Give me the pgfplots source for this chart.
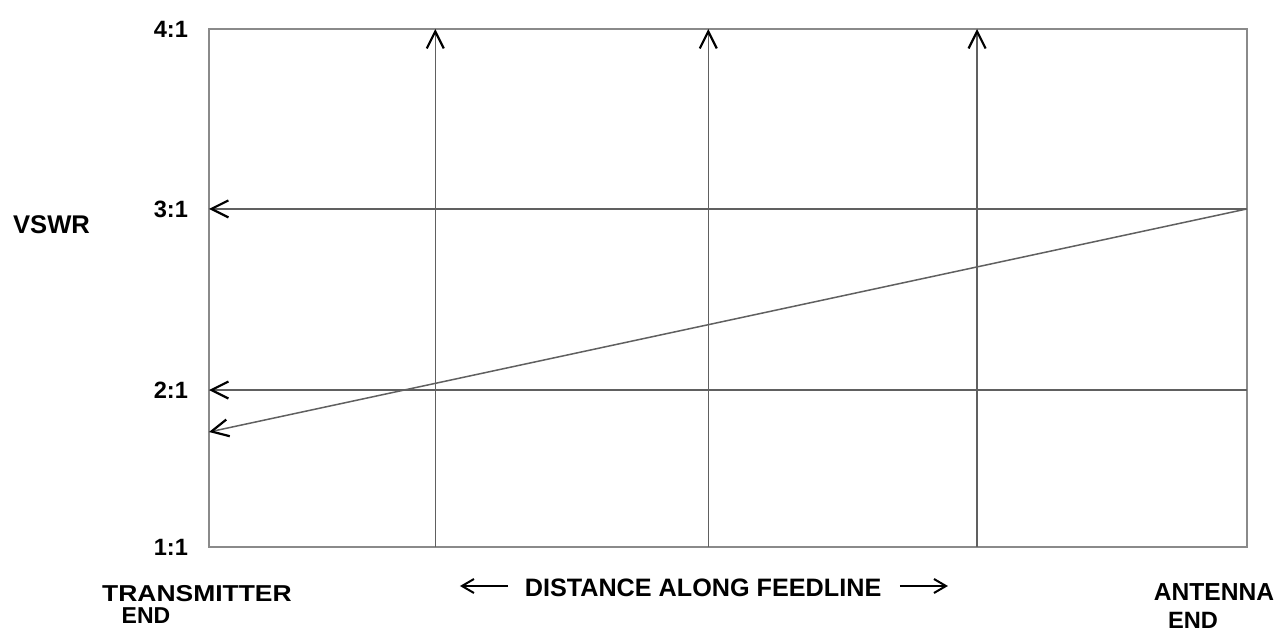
\documentclass[border=0pt]{standalone}
\usepackage{pgfplots}
\pgfplotsset{compat=1.18}
\usepackage{fontspec}
\setmainfont{Liberation Sans}
\newfontfamily\widefont[FakeStretch=1.15]{Liberation Sans}
\usetikzlibrary{arrows.meta}
\definecolor{linegray}{HTML}{606060}
\definecolor{boxgray}{HTML}{8A8A8A}
\tikzset{barb/.style={-{Straight Barb[length=8.5pt,width=8.5pt,line width=1.1pt,black]}}}
\begin{document}
\begin{tikzpicture}
\useasboundingbox (-104.5pt,-42pt) rectangle (536pt,273.5pt);
\begin{axis}[
  width=519pt, height=259pt, scale only axis,
  xmin=0, xmax=1, ymin=1, ymax=4,
  clip=false,
  axis line style={boxgray, line width=0.7pt},
  xtick=\empty,
  ytick={1,1.909,2.958,4},
  yticklabels={1:1,2:1,3:1,4:1},
  major tick length=0pt,
  yticklabel style={font=\fontsize{11.8}{13}\selectfont\bfseries, xshift=-7pt},
  every axis plot/.append style={linegray, line width=0.75pt},
]
% vertical arrows (distance along feedline)
\addplot[barb] coordinates {(0.218,1) (0.218,4)};
\addplot[barb] coordinates {(0.481,1) (0.481,4)};
\addplot[barb] coordinates {(0.740,1) (0.740,4)};
% horizontal arrows at 3:1 and 2:1
\addplot[barb] coordinates {(1,2.958) (0,2.958)};
\addplot[barb] coordinates {(1,1.909) (0,1.909)};
% VSWR along the line
\addplot[barb] coordinates {(1,2.958) (0,1.666)};
% labels
\node[font=\fontsize{12.8}{14}\selectfont\bfseries] at (rel axis cs:-0.1517,0.6216) {VSWR};
\node[font=\fontsize{11.5}{13}\selectfont\widefont\bfseries] at (rel axis cs:-0.0116,-0.0907) {TRANSMITTER};
\node[font=\fontsize{11.5}{13}\selectfont\bfseries] at (rel axis cs:-0.0607,-0.1332) {END};
\node[font=\fontsize{12.6}{14}\selectfont\bfseries] at (rel axis cs:0.476,-0.0792) {DISTANCE ALONG FEEDLINE};
\draw[black, line width=0.7pt, -{Straight Barb[length=6pt,width=7pt,line width=1pt]}] (rel axis cs:0.2881,-0.0753) -- (rel axis cs:0.2418,-0.0753);
\draw[black, line width=0.7pt, -{Straight Barb[length=6pt,width=7pt,line width=1pt]}] (rel axis cs:0.6657,-0.0753) -- (rel axis cs:0.7119,-0.0753);
\node[font=\fontsize{12.3}{14}\selectfont\bfseries] at (rel axis cs:0.9682,-0.0869) {ANTENNA};
\node[font=\fontsize{11.8}{13}\selectfont\bfseries] at (rel axis cs:0.948,-0.1409) {END};
\end{axis}
\end{tikzpicture}
\end{document}
